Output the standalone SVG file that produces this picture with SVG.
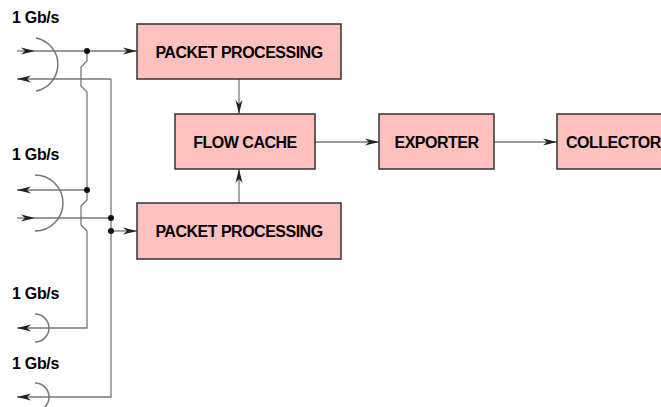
<svg xmlns="http://www.w3.org/2000/svg" width="661" height="407" viewBox="0 0 661 407">
<style>
.box{fill:#FFC0C0;stroke:#333;stroke-width:1.5}
.bt{font-family:"Liberation Sans",Arial,sans-serif;font-weight:bold;font-size:16px;letter-spacing:-0.5px;fill:#000;text-anchor:middle}
.lbl{font-family:"Liberation Sans",Arial,sans-serif;font-weight:bold;font-size:16px;letter-spacing:-0.3px;fill:#000}
.ln{fill:none;stroke:#777;stroke-width:1.3}
.arc{fill:none;stroke:#777;stroke-width:1.5}
.ar{marker-end:url(#ah)}
.dot{fill:#111}
</style>
<defs>
<marker id="ah" viewBox="0 0 14 8" refX="14" refY="4" markerWidth="14" markerHeight="8" markerUnits="userSpaceOnUse" orient="auto">
<path d="M0,0.5 L14,4 L0,7.5 L4,4 Z" fill="#222"/>
</marker>
</defs>
<g id="labels">
<text class="lbl" x="12" y="23">1 Gb/s</text>
<text class="lbl" x="12" y="160">1 Gb/s</text>
<text class="lbl" x="12" y="299">1 Gb/s</text>
<text class="lbl" x="12" y="369">1 Gb/s</text>
</g>
<g id="ports">
<path class="arc" d="M36,38 A27,27 0 0 1 36,91"/>
<path class="arc" d="M35,175 A28,28 0 0 1 35,231"/>
<path class="arc" d="M35,314 A14,14 0 0 1 35,342"/>
<path class="arc" d="M35,383 A14,14 0 0 1 35,411"/>
</g>
<g id="connectors">
<path class="ln ar" d="M17,51 H35"/>
<path class="ln ar" d="M35,51 H137"/>
<path class="ln ar" d="M87,51 V61 L81,67 V86 L87,92 V200 L81,206 V225 L87,231 V328 H17"/>
<path class="ln ar" d="M87,190 H17"/>
<path class="ln ar" d="M111,79 H17"/>
<path class="ln ar" d="M111,79 V397 H17"/>
<path class="ln ar" d="M17,218 H35"/>
<path class="ln" d="M35,218 H111"/>
<path class="ln ar" d="M111,231 H137"/>
<path class="ln ar" d="M239,79 V114"/>
<path class="ln ar" d="M239,203 V169"/>
<path class="ln ar" d="M315,142 H379"/>
<path class="ln ar" d="M494,142 H557"/>
<circle class="dot" cx="87" cy="51" r="3"/>
<circle class="dot" cx="87" cy="190" r="3"/>
<circle class="dot" cx="111" cy="218" r="3"/>
<circle class="dot" cx="111" cy="231" r="3"/>
</g>
<g id="pp1">
<rect class="box" x="137" y="24" width="204" height="55"/>
<text class="bt" x="239" y="57.5">PACKET PROCESSING</text>
</g>
<g id="flowcache">
<rect class="box" x="175" y="114" width="140" height="55"/>
<text class="bt" x="245" y="147.5">FLOW CACHE</text>
</g>
<g id="pp2">
<rect class="box" x="137" y="203" width="204" height="56"/>
<text class="bt" x="239" y="237">PACKET PROCESSING</text>
</g>
<g id="exporter">
<rect class="box" x="379" y="114" width="115" height="55"/>
<text class="bt" x="436.5" y="147.5">EXPORTER</text>
</g>
<g id="collector">
<rect class="box" x="557" y="114" width="115" height="55"/>
<text class="bt" x="566" y="147.5" style="text-anchor:start">COLLECTOR</text>
</g>
</svg>
